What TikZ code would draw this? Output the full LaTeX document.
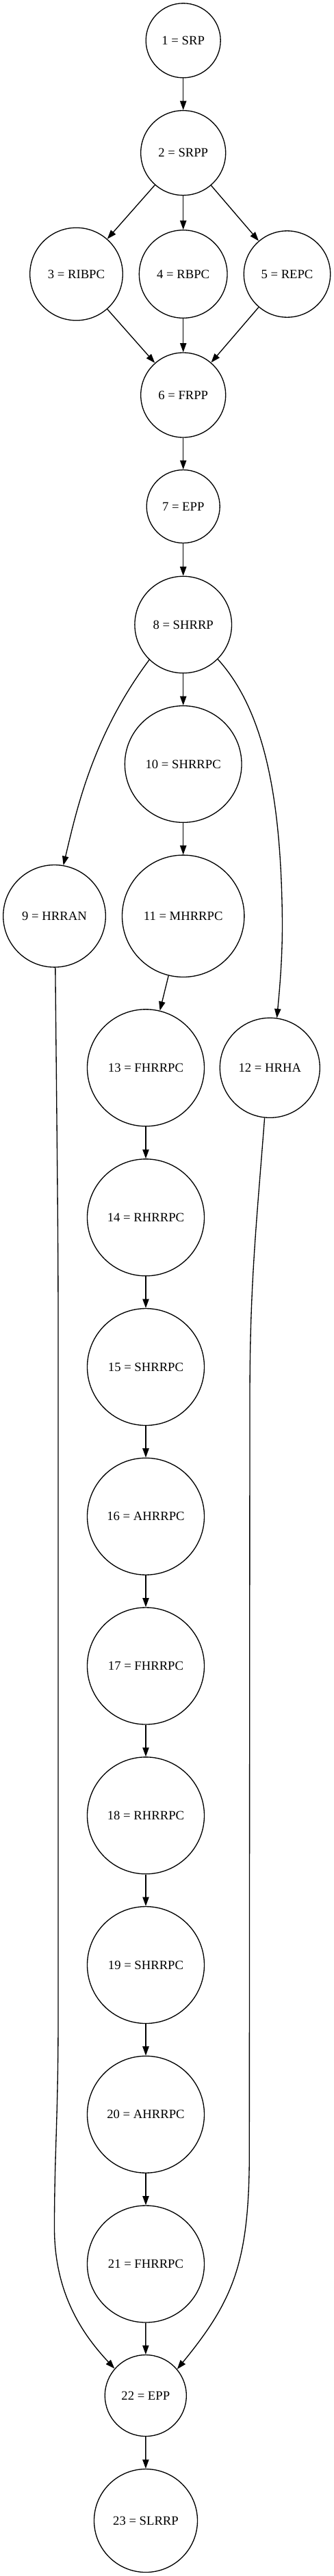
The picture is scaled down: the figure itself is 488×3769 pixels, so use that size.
\documentclass[tikz,border=0pt]{standalone}
\usepackage{fontspec}
\setmainfont{Liberation Serif}
\usetikzlibrary{arrows.meta}
\begin{document}
\begin{tikzpicture}[x=0.75pt,y=-0.75pt,
  circ/.style={draw=black,line width=1pt,circle,inner sep=0pt,font=\fontsize{14}{16}\selectfont},
  edge/.style={draw=black,line width=1pt,-{Triangle[length=10pt,width=7pt]}}]
\useasboundingbox (0,0) rectangle (488,3769);
\node[circ,minimum size=81.75pt] (n1) at (267.7,59.3) {1 = SRP};
\node[circ,minimum size=93pt] (n2) at (267.7,223.7) {2 = SRPP};
\node[circ,minimum size=101.7pt] (n3) at (111.5,401) {3 = RIBPC};
\node[circ,minimum size=96.5pt] (n4) at (267.7,401) {4 = RBPC};
\node[circ,minimum size=94.8pt] (n5) at (419.5,401) {5 = REPC};
\node[circ,minimum size=93pt] (n6) at (267.7,578) {6 = FRPP};
\node[circ,minimum size=80.25pt] (n7) at (267.7,741) {7 = EPP};
\node[circ,minimum size=106.2pt] (n8) at (267.7,914) {8 = SHRRP};
\node[circ,minimum size=128pt] (n10) at (267.7,1118) {10 = SHRRPC};
\node[circ,minimum size=112.2pt] (n9) at (79.5,1340.3) {9 = HRRAN};
\node[circ,minimum size=133.8pt] (n11) at (267.7,1340.3) {11 = MHRRPC};
\node[circ,minimum size=128.25pt] (n13) at (213,1562.3) {13 = FHRRPC};
\node[circ,minimum size=109.5pt] (n12) at (394.3,1562.3) {12 = HRHA};
\node[circ,minimum size=128.25pt] (n14) at (213,1781.3) {14 = RHRRPC};
\node[circ,minimum size=128.25pt] (n15) at (213,2000) {15 = SHRRPC};
\node[circ,minimum size=128.25pt] (n16) at (213,2218.7) {16 = AHRRPC};
\node[circ,minimum size=128.25pt] (n17) at (213,2437.5) {17 = FHRRPC};
\node[circ,minimum size=128.25pt] (n18) at (213,2656.3) {18 = RHRRPC};
\node[circ,minimum size=128.25pt] (n19) at (213,2875) {19 = SHRRPC};
\node[circ,minimum size=128.25pt] (n20) at (213,3093.7) {20 = AHRRPC};
\node[circ,minimum size=128.25pt] (n21) at (213,3312.5) {21 = FHRRPC};
\node[circ,minimum size=89.25pt] (n22) at (212.8,3505) {22 = EPP};
\node[circ,minimum size=113.25pt] (n23) at (213,3688) {23 = SLRRP};
% straight edges
\draw[edge] (n1) -- (n2);
\draw[edge] (n2) -- (n3);
\draw[edge] (n2) -- (n4);
\draw[edge] (n2) -- (n5);
\draw[edge] (n3) -- (n6);
\draw[edge] (n4) -- (n6);
\draw[edge] (n5) -- (n6);
\draw[edge] (n6) -- (n7);
\draw[edge] (n7) -- (n8);
\draw[edge] (n8) -- (n10);
\draw[edge] (n10) -- (n11);
\draw[edge] (n11) -- (n13);
\draw[edge] (n13) -- (n14);
\draw[edge] (n14) -- (n15);
\draw[edge] (n15) -- (n16);
\draw[edge] (n16) -- (n17);
\draw[edge] (n17) -- (n18);
\draw[edge] (n18) -- (n19);
\draw[edge] (n19) -- (n20);
\draw[edge] (n20) -- (n21);
\draw[edge] (n21) -- (n22);
\draw[edge] (n22) -- (n23);
% curved edges
\draw[edge] (n8.226) .. controls (134.3,1077.7) and (111.3,1188.1) .. (n9.80.7);
\draw[edge] (n8.-45) .. controls (393,1046.7) and (411,1190) .. (412.5,1350)
  .. controls (412.5,1400) and (409.3,1439.3) .. (n12.82.2);
\draw[edge] (n9.271.7) .. controls (83.5,1700) and (85,1800) .. (85,1950) -- (85,2950)
  .. controls (85,3100) and (79.5,3150) .. (79.5,3260)
  .. controls (79.5,3360) and (125,3420) .. (n22.139.5);
\draw[edge] (n12.264) .. controls (374,1800) and (365,1880) .. (365,2050) -- (364.3,3150)
  .. controls (364.3,3310) and (341.2,3365.6) .. (n22.40.2);
\end{tikzpicture}
\end{document}
